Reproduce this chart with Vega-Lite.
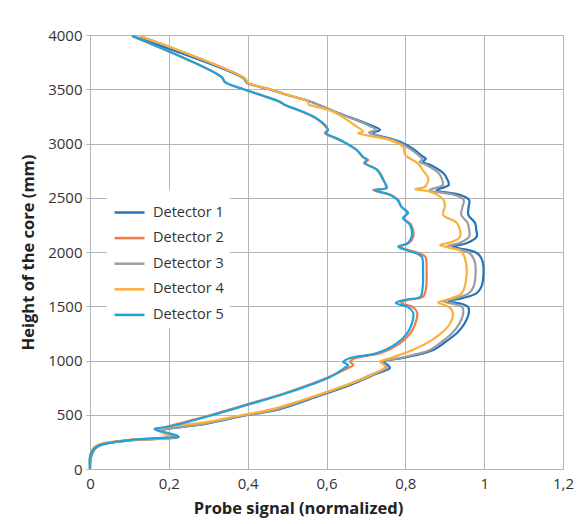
{
  "$schema": "https://vega.github.io/schema/vega-lite/v6.json",
  "autosize": {"type": "none"},
  "padding": {"left": 90, "top": 35, "right": 19, "bottom": 55},
  "width": 473,
  "height": 434,
  "background": "white",
  "config": {
    "font": "Open Sans",
    "view": {"stroke": "#b4b4b4"},
    "axis": {"gridColor": "#b4b4b4", "gridWidth": 1, "domainColor": "#b4b4b4", "tickColor": "#b4b4b4", "labelColor": "#333333", "labelFontSize": 15, "titleFontSize": 16.5, "titleFontWeight": "bold", "titleColor": "#222222", "labelFont": "Open Sans", "titleFont": "Open Sans"},
    "legend": {"labelFont": "Open Sans"}
  },
  "datasets": {
    "d1": [{"h":0,"v":0},{"h":110,"v":0.003},{"h":190,"v":0.013},{"h":225,"v":0.03},{"h":262,"v":0.10},{"h":297,"v":0.225},{"h":330,"v":0.195},{"h":350,"v":0.178},{"h":420,"v":0.30},{"h":498,"v":0.40},{"h":544,"v":0.474},{"h":666,"v":0.575},{"h":774,"v":0.660},{"h":880,"v":0.728},{"h":931,"v":0.761},{"h":960,"v":0.755},{"h":989,"v":0.744},{"h":1023,"v":0.794},{"h":1097,"v":0.871},{"h":1180,"v":0.905},{"h":1253,"v":0.931},{"h":1340,"v":0.950},{"h":1419,"v":0.960},{"h":1490,"v":0.960},{"h":1520,"v":0.945},{"h":1545,"v":0.910},{"h":1575,"v":0.945},{"h":1622,"v":0.981},{"h":1680,"v":0.993},{"h":1742,"v":0.997},{"h":1899,"v":0.997},{"h":1960,"v":0.990},{"h":1991,"v":0.981},{"h":2020,"v":0.958},{"h":2049,"v":0.920},{"h":2080,"v":0.955},{"h":2141,"v":0.981},{"h":2200,"v":0.980},{"h":2267,"v":0.977},{"h":2341,"v":0.960},{"h":2405,"v":0.960},{"h":2479,"v":0.962},{"h":2525,"v":0.940},{"h":2571,"v":0.880},{"h":2617,"v":0.910},{"h":2680,"v":0.905},{"h":2728,"v":0.896},{"h":2800,"v":0.865},{"h":2830,"v":0.845},{"h":2860,"v":0.852},{"h":2878,"v":0.845},{"h":2950,"v":0.82},{"h":3016,"v":0.787},{"h":3097,"v":0.718},{"h":3124,"v":0.736},{"h":3186,"v":0.70},{"h":3278,"v":0.632},{"h":3385,"v":0.56},{"h":3447,"v":0.50},{"h":3500,"v":0.455},{"h":3560,"v":0.398},{"h":3600,"v":0.39},{"h":3990,"v":0.108}],
    "d2": [{"h":0,"v":0},{"h":113,"v":0.0},{"h":160,"v":0.004},{"h":194,"v":0.011},{"h":221,"v":0.022},{"h":267,"v":0.096},{"h":304,"v":0.22},{"h":330,"v":0.197},{"h":350,"v":0.176},{"h":369,"v":0.163},{"h":387,"v":0.19},{"h":498,"v":0.306},{"h":590,"v":0.393},{"h":710,"v":0.503},{"h":848,"v":0.606},{"h":930,"v":0.655},{"h":958,"v":0.668},{"h":990,"v":0.660},{"h":1023,"v":0.674},{"h":1069,"v":0.738},{"h":1161,"v":0.787},{"h":1253,"v":0.813},{"h":1346,"v":0.826},{"h":1440,"v":0.830},{"h":1490,"v":0.82},{"h":1530,"v":0.79},{"h":1560,"v":0.808},{"h":1588,"v":0.845},{"h":1677,"v":0.853},{"h":1806,"v":0.854},{"h":1954,"v":0.851},{"h":1985,"v":0.838},{"h":2020,"v":0.806},{"h":2049,"v":0.786},{"h":2080,"v":0.808},{"h":2141,"v":0.82},{"h":2249,"v":0.815},{"h":2313,"v":0.797},{"h":2359,"v":0.805},{"h":2417,"v":0.79},{"h":2479,"v":0.782},{"h":2525,"v":0.762},{"h":2571,"v":0.718},{"h":2590,"v":0.75},{"h":2663,"v":0.745},{"h":2756,"v":0.73},{"h":2820,"v":0.695},{"h":2848,"v":0.706},{"h":2875,"v":0.692},{"h":2940,"v":0.676},{"h":3032,"v":0.633},{"h":3097,"v":0.596},{"h":3124,"v":0.603},{"h":3170,"v":0.594},{"h":3232,"v":0.573},{"h":3300,"v":0.533},{"h":3355,"v":0.494},{"h":3385,"v":0.48},{"h":3440,"v":0.438},{"h":3500,"v":0.389},{"h":3565,"v":0.342},{"h":3610,"v":0.334},{"h":3990,"v":0.106}],
    "d3": [{"h":0,"v":0},{"h":110,"v":0.003},{"h":190,"v":0.012},{"h":225,"v":0.028},{"h":262,"v":0.095},{"h":297,"v":0.218},{"h":330,"v":0.19},{"h":350,"v":0.175},{"h":420,"v":0.295},{"h":498,"v":0.395},{"h":544,"v":0.468},{"h":666,"v":0.568},{"h":774,"v":0.652},{"h":880,"v":0.72},{"h":931,"v":0.753},{"h":960,"v":0.748},{"h":989,"v":0.74},{"h":1023,"v":0.785},{"h":1097,"v":0.862},{"h":1180,"v":0.895},{"h":1253,"v":0.919},{"h":1340,"v":0.937},{"h":1419,"v":0.946},{"h":1490,"v":0.945},{"h":1520,"v":0.925},{"h":1545,"v":0.895},{"h":1575,"v":0.93},{"h":1622,"v":0.962},{"h":1680,"v":0.973},{"h":1742,"v":0.977},{"h":1899,"v":0.977},{"h":1960,"v":0.97},{"h":1991,"v":0.962},{"h":2020,"v":0.94},{"h":2049,"v":0.905},{"h":2080,"v":0.935},{"h":2141,"v":0.962},{"h":2200,"v":0.962},{"h":2267,"v":0.958},{"h":2341,"v":0.942},{"h":2405,"v":0.944},{"h":2479,"v":0.948},{"h":2525,"v":0.925},{"h":2571,"v":0.862},{"h":2617,"v":0.895},{"h":2680,"v":0.892},{"h":2728,"v":0.884},{"h":2800,"v":0.855},{"h":2830,"v":0.837},{"h":2860,"v":0.843},{"h":2878,"v":0.838},{"h":2950,"v":0.812},{"h":3016,"v":0.78},{"h":3100,"v":0.708},{"h":3124,"v":0.725},{"h":3186,"v":0.695},{"h":3278,"v":0.63},{"h":3385,"v":0.56},{"h":3447,"v":0.502},{"h":3500,"v":0.457},{"h":3560,"v":0.40},{"h":3600,"v":0.393},{"h":3990,"v":0.127}],
    "d4": [{"h":0,"v":0},{"h":100,"v":0.0},{"h":150,"v":0.003},{"h":200,"v":0.01},{"h":235,"v":0.03},{"h":265,"v":0.10},{"h":292,"v":0.205},{"h":320,"v":0.19},{"h":350,"v":0.18},{"h":380,"v":0.19},{"h":430,"v":0.29},{"h":500,"v":0.39},{"h":550,"v":0.46},{"h":670,"v":0.568},{"h":780,"v":0.655},{"h":860,"v":0.71},{"h":943,"v":0.749},{"h":989,"v":0.736},{"h":1020,"v":0.761},{"h":1112,"v":0.829},{"h":1219,"v":0.880},{"h":1343,"v":0.914},{"h":1435,"v":0.921},{"h":1480,"v":0.915},{"h":1510,"v":0.90},{"h":1535,"v":0.883},{"h":1560,"v":0.905},{"h":1619,"v":0.943},{"h":1742,"v":0.954},{"h":1899,"v":0.954},{"h":2003,"v":0.943},{"h":2035,"v":0.92},{"h":2064,"v":0.888},{"h":2095,"v":0.92},{"h":2141,"v":0.939},{"h":2267,"v":0.931},{"h":2341,"v":0.896},{"h":2420,"v":0.90},{"h":2479,"v":0.897},{"h":2556,"v":0.863},{"h":2578,"v":0.825},{"h":2602,"v":0.850},{"h":2682,"v":0.858},{"h":2750,"v":0.845},{"h":2817,"v":0.832},{"h":2894,"v":0.800},{"h":2970,"v":0.794},{"h":3032,"v":0.761},{"h":3094,"v":0.680},{"h":3109,"v":0.693},{"h":3155,"v":0.677},{"h":3293,"v":0.617},{"h":3340,"v":0.572},{"h":3360,"v":0.555},{"h":3385,"v":0.553},{"h":3447,"v":0.502},{"h":3500,"v":0.457},{"h":3560,"v":0.40},{"h":3600,"v":0.393},{"h":3990,"v":0.127}],
    "d5": [{"h":0,"v":0},{"h":113,"v":0.0},{"h":160,"v":0.005},{"h":194,"v":0.013},{"h":221,"v":0.025},{"h":267,"v":0.10},{"h":304,"v":0.223},{"h":330,"v":0.20},{"h":350,"v":0.178},{"h":369,"v":0.165},{"h":387,"v":0.195},{"h":498,"v":0.312},{"h":590,"v":0.398},{"h":710,"v":0.508},{"h":848,"v":0.609},{"h":930,"v":0.645},{"h":958,"v":0.655},{"h":986,"v":0.642},{"h":1023,"v":0.660},{"h":1069,"v":0.728},{"h":1161,"v":0.779},{"h":1253,"v":0.805},{"h":1346,"v":0.817},{"h":1440,"v":0.820},{"h":1490,"v":0.808},{"h":1530,"v":0.776},{"h":1560,"v":0.800},{"h":1588,"v":0.838},{"h":1677,"v":0.844},{"h":1806,"v":0.845},{"h":1954,"v":0.842},{"h":1985,"v":0.83},{"h":2020,"v":0.80},{"h":2049,"v":0.782},{"h":2080,"v":0.805},{"h":2141,"v":0.816},{"h":2249,"v":0.812},{"h":2313,"v":0.794},{"h":2359,"v":0.807},{"h":2417,"v":0.79},{"h":2479,"v":0.78},{"h":2525,"v":0.763},{"h":2571,"v":0.723},{"h":2590,"v":0.753},{"h":2663,"v":0.744},{"h":2756,"v":0.728},{"h":2820,"v":0.698},{"h":2848,"v":0.702},{"h":2875,"v":0.693},{"h":2940,"v":0.677},{"h":3032,"v":0.635},{"h":3097,"v":0.599},{"h":3124,"v":0.604},{"h":3170,"v":0.596},{"h":3232,"v":0.575},{"h":3300,"v":0.535},{"h":3355,"v":0.495},{"h":3385,"v":0.482},{"h":3440,"v":0.44},{"h":3500,"v":0.39},{"h":3565,"v":0.343},{"h":3610,"v":0.335},{"h":3990,"v":0.107}]
  },
  "encoding": {
    "x": {"field": "v", "type": "quantitative", "scale": {"domain": [0, 1.2], "nice": false},
      "axis": {"title": "Probe signal (normalized)", "values": [0, 0.2, 0.4, 0.6, 0.8, 1, 1.2], "labelExpr": "replace(format(datum.value, '~g'), '.', ',')", "ticks": false, "labelPadding": 7, "titlePadding": 9, "titleX": 208, "labelFlush": false}},
    "y": {"field": "h", "type": "quantitative", "scale": {"domain": [0, 4000], "nice": false},
      "axis": {"title": "Height of the core (mm)", "values": [0, 500, 1000, 1500, 2000, 2500, 3000, 3500, 4000], "format": "d", "tickSize": 4, "labelPadding": 4, "titlePadding": 11}},
    "order": {"field": "h", "type": "quantitative"}
  },
  "layer": [
    {"data": {"name": "d1"}, "mark": {"type": "line", "strokeWidth": 2.2, "interpolate": "catmull-rom"}, "encoding": {"color": {"datum": "Detector 1", "type": "nominal",
      "scale": {"domain": ["Detector 1", "Detector 2", "Detector 3", "Detector 4", "Detector 5"], "range": ["#2474bb", "#f27a4a", "#9d9d9d", "#fbb03b", "#1ea4dc"]},
      "legend": {"title": null, "orient": "none", "legendX": 17, "legendY": 155, "fillColor": "white", "padding": 6, "symbolType": "stroke", "symbolSize": 900, "symbolStrokeWidth": 2.5, "labelFontSize": 14.5, "labelColor": "#333333", "labelOffset": 7, "rowPadding": 2.6}}}},
    {"data": {"name": "d2"}, "mark": {"type": "line", "strokeWidth": 2.2, "interpolate": "catmull-rom"}, "encoding": {"color": {"datum": "Detector 2", "type": "nominal"}}},
    {"data": {"name": "d3"}, "mark": {"type": "line", "strokeWidth": 2.2, "interpolate": "catmull-rom"}, "encoding": {"color": {"datum": "Detector 3", "type": "nominal"}}},
    {"data": {"name": "d4"}, "mark": {"type": "line", "strokeWidth": 2.2, "interpolate": "catmull-rom"}, "encoding": {"color": {"datum": "Detector 4", "type": "nominal"}}},
    {"data": {"name": "d5"}, "mark": {"type": "line", "strokeWidth": 2.2, "interpolate": "catmull-rom"}, "encoding": {"color": {"datum": "Detector 5", "type": "nominal"}}}
  ]
}
